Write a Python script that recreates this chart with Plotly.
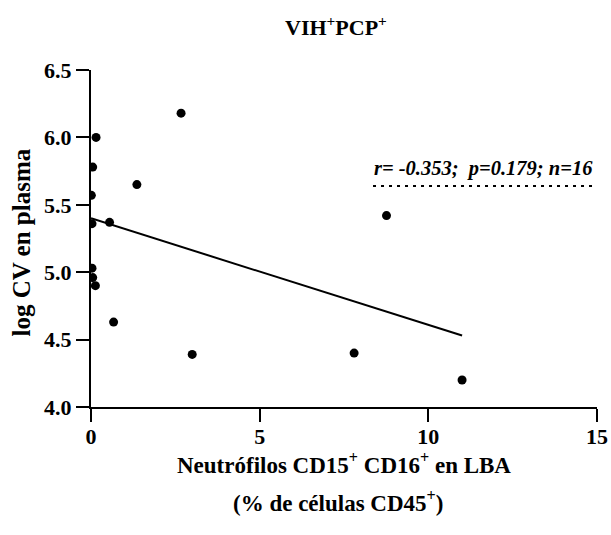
import plotly.graph_objects as go

# Data
neutrofilos = [0.15, 0.05, 0.01, 0.03, 0.55, 1.36, 2.67, 0.03, 0.05, 0.13, 0.67, 3.00, 8.76, 7.80, 11.00]
log_cv = [6.00, 5.78, 5.57, 5.36, 5.37, 5.65, 6.18, 5.03, 4.96, 4.90, 4.63, 4.39, 5.42, 4.40, 4.20]

fit_x = [0.0, 11.0]
fit_y = [5.40, 4.53]

stats_text = "r= -0.353;  p=0.179; n=16"
stats_line_x = [8.36, 14.93]
stats_line_y = [5.64, 5.64]

x_ticks = [0, 5, 10, 15]
y_ticks = [4.0, 4.5, 5.0, 5.5, 6.0, 6.5]
y_ticklabels = ["4.0", "4.5", "5.0", "5.5", "6.0", "6.5"]

FONT = "Liberation Serif, Times New Roman, serif"

fig = go.Figure()
fig.add_trace(go.Scatter(x=fit_x, y=fit_y, mode="lines",
                         line=dict(color="black", width=2), hoverinfo="skip"))
fig.add_trace(go.Scatter(x=neutrofilos, y=log_cv, mode="markers",
                         marker=dict(color="black", size=9)))
fig.add_trace(go.Scatter(x=stats_line_x, y=stats_line_y, mode="lines",
                         line=dict(color="black", width=2, dash="3px,5px"), hoverinfo="skip"))

fig.add_annotation(x=(stats_line_x[0] + stats_line_x[1]) / 2, y=stats_line_y[0],
                   xref="x", yref="y", yanchor="middle", yshift=17, showarrow=False,
                   text="<i>" + stats_text + "</i>",
                   font=dict(family=FONT, size=20.5, color="black", weight="bold"))

fig.add_annotation(x=0.5, y=1, xref="paper", yref="paper", yanchor="middle",
                   yshift=44, xshift=-8, showarrow=False,
                   text="VIH<sup>+</sup>PCP<sup>+</sup>",
                   font=dict(family=FONT, size=22, color="black", weight="bold"))

fig.add_annotation(x=0.5, y=0, xref="paper", yref="paper", yanchor="middle",
                   yshift=-56, showarrow=False,
                   text="Neutrófilos CD15<sup>+</sup> CD16<sup>+</sup> en LBA",
                   font=dict(family=FONT, size=23, color="black", weight="bold"))
fig.add_annotation(x=0.5, y=0, xref="paper", yref="paper", yanchor="middle",
                   yshift=-94, xshift=-6, showarrow=False,
                   text="(% de células CD45<sup>+</sup>)",
                   font=dict(family=FONT, size=23, color="black", weight="bold"))

fig.add_annotation(x=0, y=0.5, xref="paper", yref="paper", xanchor="center", yanchor="middle",
                   xshift=-70, yshift=-4, textangle=-90, showarrow=False,
                   text="log CV en plasma",
                   font=dict(family=FONT, size=25, color="black", weight="bold"))

fig.update_layout(
    width=611, height=535,
    margin=dict(l=90.5, r=14, t=70, b=128, autoexpand=False),
    plot_bgcolor="white", paper_bgcolor="white",
    showlegend=False,
    font=dict(family=FONT, color="black", weight="bold"),
)
fig.update_xaxes(range=[0, 15], tickvals=x_ticks, ticks="outside", ticklen=13, tickwidth=2,
                 tickcolor="black", automargin=False, ticklabelstandoff=-4,
                 showline=True, linecolor="black", linewidth=2, showgrid=False, zeroline=False,
                 tickfont=dict(family=FONT, size=22, color="black", weight="bold"))
fig.update_yaxes(range=[4.0, 6.5], tickvals=y_ticks, ticktext=y_ticklabels, ticks="outside",
                 ticklen=13, tickwidth=2, tickcolor="black", automargin=False,
                 showline=True, linecolor="black", linewidth=2, showgrid=False, zeroline=False,
                 tickfont=dict(family=FONT, size=22, color="black", weight="bold"))

# remove the default page margin so the 611x535 figure fills the window exactly
fig.write_html("out.html",
               config={"displayModeBar": False},
               post_script="document.body.style.margin='0';"
                           "document.documentElement.style.overflow='hidden';")
